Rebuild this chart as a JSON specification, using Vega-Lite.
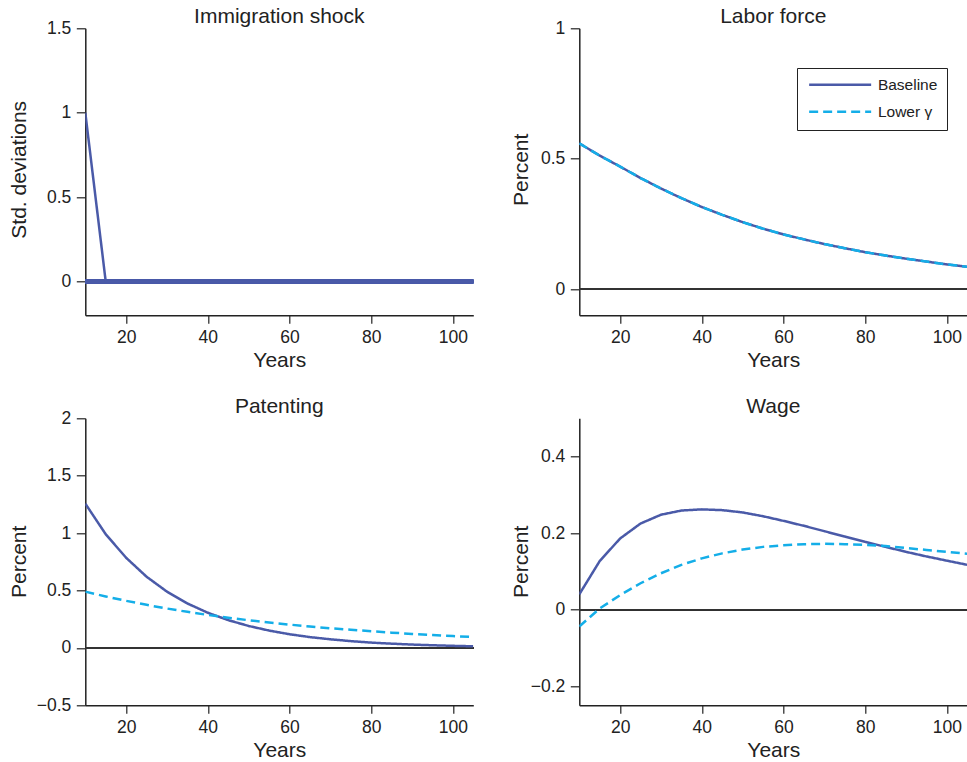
{
  "$schema": "https://vega.github.io/schema/vega-lite/v6.json",
  "autosize": {"type": "none"},
  "padding": {"left": 85.3, "top": 28.3, "right": 881.7, "bottom": 733.7},
  "background": "white",
  "bounds": "flush",
  "columns": 2,
  "spacing": {"row": 103, "column": 106},
  "resolve": {
    "scale": {"color": "independent", "strokeDash": "independent", "y": "independent", "x": "independent"},
    "legend": {"color": "independent", "strokeDash": "independent"}
  },
  "data": {"values": [
    {"panel": "shock", "series": "Baseline", "year": 10, "value": 1},
    {"panel": "shock", "series": "Baseline", "year": 15, "value": 0},
    {"panel": "shock", "series": "Baseline", "year": 20, "value": 0},
    {"panel": "shock", "series": "Baseline", "year": 25, "value": 0},
    {"panel": "shock", "series": "Baseline", "year": 30, "value": 0},
    {"panel": "shock", "series": "Baseline", "year": 35, "value": 0},
    {"panel": "shock", "series": "Baseline", "year": 40, "value": 0},
    {"panel": "shock", "series": "Baseline", "year": 45, "value": 0},
    {"panel": "shock", "series": "Baseline", "year": 50, "value": 0},
    {"panel": "shock", "series": "Baseline", "year": 55, "value": 0},
    {"panel": "shock", "series": "Baseline", "year": 60, "value": 0},
    {"panel": "shock", "series": "Baseline", "year": 65, "value": 0},
    {"panel": "shock", "series": "Baseline", "year": 70, "value": 0},
    {"panel": "shock", "series": "Baseline", "year": 75, "value": 0},
    {"panel": "shock", "series": "Baseline", "year": 80, "value": 0},
    {"panel": "shock", "series": "Baseline", "year": 85, "value": 0},
    {"panel": "shock", "series": "Baseline", "year": 90, "value": 0},
    {"panel": "shock", "series": "Baseline", "year": 95, "value": 0},
    {"panel": "shock", "series": "Baseline", "year": 100, "value": 0},
    {"panel": "shock", "series": "Baseline", "year": 105, "value": 0},

    {"panel": "labor", "series": "Baseline", "year": 10, "value": 0.559},
    {"panel": "labor", "series": "Baseline", "year": 15, "value": 0.512},
    {"panel": "labor", "series": "Baseline", "year": 20, "value": 0.470},
    {"panel": "labor", "series": "Baseline", "year": 25, "value": 0.426},
    {"panel": "labor", "series": "Baseline", "year": 30, "value": 0.386},
    {"panel": "labor", "series": "Baseline", "year": 35, "value": 0.349},
    {"panel": "labor", "series": "Baseline", "year": 40, "value": 0.315},
    {"panel": "labor", "series": "Baseline", "year": 45, "value": 0.285},
    {"panel": "labor", "series": "Baseline", "year": 50, "value": 0.257},
    {"panel": "labor", "series": "Baseline", "year": 55, "value": 0.232},
    {"panel": "labor", "series": "Baseline", "year": 60, "value": 0.210},
    {"panel": "labor", "series": "Baseline", "year": 65, "value": 0.191},
    {"panel": "labor", "series": "Baseline", "year": 70, "value": 0.173},
    {"panel": "labor", "series": "Baseline", "year": 75, "value": 0.157},
    {"panel": "labor", "series": "Baseline", "year": 80, "value": 0.142},
    {"panel": "labor", "series": "Baseline", "year": 85, "value": 0.129},
    {"panel": "labor", "series": "Baseline", "year": 90, "value": 0.117},
    {"panel": "labor", "series": "Baseline", "year": 95, "value": 0.106},
    {"panel": "labor", "series": "Baseline", "year": 100, "value": 0.095},
    {"panel": "labor", "series": "Baseline", "year": 105, "value": 0.086},
    {"panel": "labor", "series": "Lower γ", "year": 10, "value": 0.559},
    {"panel": "labor", "series": "Lower γ", "year": 15, "value": 0.512},
    {"panel": "labor", "series": "Lower γ", "year": 20, "value": 0.470},
    {"panel": "labor", "series": "Lower γ", "year": 25, "value": 0.426},
    {"panel": "labor", "series": "Lower γ", "year": 30, "value": 0.386},
    {"panel": "labor", "series": "Lower γ", "year": 35, "value": 0.349},
    {"panel": "labor", "series": "Lower γ", "year": 40, "value": 0.315},
    {"panel": "labor", "series": "Lower γ", "year": 45, "value": 0.285},
    {"panel": "labor", "series": "Lower γ", "year": 50, "value": 0.257},
    {"panel": "labor", "series": "Lower γ", "year": 55, "value": 0.232},
    {"panel": "labor", "series": "Lower γ", "year": 60, "value": 0.210},
    {"panel": "labor", "series": "Lower γ", "year": 65, "value": 0.191},
    {"panel": "labor", "series": "Lower γ", "year": 70, "value": 0.173},
    {"panel": "labor", "series": "Lower γ", "year": 75, "value": 0.157},
    {"panel": "labor", "series": "Lower γ", "year": 80, "value": 0.142},
    {"panel": "labor", "series": "Lower γ", "year": 85, "value": 0.129},
    {"panel": "labor", "series": "Lower γ", "year": 90, "value": 0.117},
    {"panel": "labor", "series": "Lower γ", "year": 95, "value": 0.106},
    {"panel": "labor", "series": "Lower γ", "year": 100, "value": 0.095},
    {"panel": "labor", "series": "Lower γ", "year": 105, "value": 0.086},

    {"panel": "patent", "series": "Baseline", "year": 10, "value": 1.257},
    {"panel": "patent", "series": "Baseline", "year": 15, "value": 0.990},
    {"panel": "patent", "series": "Baseline", "year": 20, "value": 0.785},
    {"panel": "patent", "series": "Baseline", "year": 25, "value": 0.620},
    {"panel": "patent", "series": "Baseline", "year": 30, "value": 0.490},
    {"panel": "patent", "series": "Baseline", "year": 35, "value": 0.387},
    {"panel": "patent", "series": "Baseline", "year": 40, "value": 0.306},
    {"panel": "patent", "series": "Baseline", "year": 45, "value": 0.242},
    {"panel": "patent", "series": "Baseline", "year": 50, "value": 0.191},
    {"panel": "patent", "series": "Baseline", "year": 55, "value": 0.151},
    {"panel": "patent", "series": "Baseline", "year": 60, "value": 0.119},
    {"panel": "patent", "series": "Baseline", "year": 65, "value": 0.094},
    {"panel": "patent", "series": "Baseline", "year": 70, "value": 0.075},
    {"panel": "patent", "series": "Baseline", "year": 75, "value": 0.059},
    {"panel": "patent", "series": "Baseline", "year": 80, "value": 0.046},
    {"panel": "patent", "series": "Baseline", "year": 85, "value": 0.037},
    {"panel": "patent", "series": "Baseline", "year": 90, "value": 0.029},
    {"panel": "patent", "series": "Baseline", "year": 95, "value": 0.023},
    {"panel": "patent", "series": "Baseline", "year": 100, "value": 0.018},
    {"panel": "patent", "series": "Baseline", "year": 105, "value": 0.014},
    {"panel": "patent", "series": "Lower γ", "year": 10, "value": 0.490},
    {"panel": "patent", "series": "Lower γ", "year": 15, "value": 0.448},
    {"panel": "patent", "series": "Lower γ", "year": 20, "value": 0.410},
    {"panel": "patent", "series": "Lower γ", "year": 25, "value": 0.375},
    {"panel": "patent", "series": "Lower γ", "year": 30, "value": 0.343},
    {"panel": "patent", "series": "Lower γ", "year": 35, "value": 0.314},
    {"panel": "patent", "series": "Lower γ", "year": 40, "value": 0.287},
    {"panel": "patent", "series": "Lower γ", "year": 45, "value": 0.263},
    {"panel": "patent", "series": "Lower γ", "year": 50, "value": 0.241},
    {"panel": "patent", "series": "Lower γ", "year": 55, "value": 0.221},
    {"panel": "patent", "series": "Lower γ", "year": 60, "value": 0.203},
    {"panel": "patent", "series": "Lower γ", "year": 65, "value": 0.186},
    {"panel": "patent", "series": "Lower γ", "year": 70, "value": 0.171},
    {"panel": "patent", "series": "Lower γ", "year": 75, "value": 0.158},
    {"panel": "patent", "series": "Lower γ", "year": 80, "value": 0.145},
    {"panel": "patent", "series": "Lower γ", "year": 85, "value": 0.133},
    {"panel": "patent", "series": "Lower γ", "year": 90, "value": 0.122},
    {"panel": "patent", "series": "Lower γ", "year": 95, "value": 0.112},
    {"panel": "patent", "series": "Lower γ", "year": 100, "value": 0.103},
    {"panel": "patent", "series": "Lower γ", "year": 105, "value": 0.095},

    {"panel": "wage", "series": "Baseline", "year": 10, "value": 0.040},
    {"panel": "wage", "series": "Baseline", "year": 15, "value": 0.127},
    {"panel": "wage", "series": "Baseline", "year": 20, "value": 0.186},
    {"panel": "wage", "series": "Baseline", "year": 25, "value": 0.225},
    {"panel": "wage", "series": "Baseline", "year": 30, "value": 0.248},
    {"panel": "wage", "series": "Baseline", "year": 35, "value": 0.259},
    {"panel": "wage", "series": "Baseline", "year": 40, "value": 0.262},
    {"panel": "wage", "series": "Baseline", "year": 45, "value": 0.260},
    {"panel": "wage", "series": "Baseline", "year": 50, "value": 0.254},
    {"panel": "wage", "series": "Baseline", "year": 55, "value": 0.244},
    {"panel": "wage", "series": "Baseline", "year": 60, "value": 0.232},
    {"panel": "wage", "series": "Baseline", "year": 65, "value": 0.219},
    {"panel": "wage", "series": "Baseline", "year": 70, "value": 0.205},
    {"panel": "wage", "series": "Baseline", "year": 75, "value": 0.191},
    {"panel": "wage", "series": "Baseline", "year": 80, "value": 0.177},
    {"panel": "wage", "series": "Baseline", "year": 85, "value": 0.164},
    {"panel": "wage", "series": "Baseline", "year": 90, "value": 0.151},
    {"panel": "wage", "series": "Baseline", "year": 95, "value": 0.139},
    {"panel": "wage", "series": "Baseline", "year": 100, "value": 0.128},
    {"panel": "wage", "series": "Baseline", "year": 105, "value": 0.117},
    {"panel": "wage", "series": "Lower γ", "year": 10, "value": -0.044},
    {"panel": "wage", "series": "Lower γ", "year": 15, "value": 0.003},
    {"panel": "wage", "series": "Lower γ", "year": 20, "value": 0.038},
    {"panel": "wage", "series": "Lower γ", "year": 25, "value": 0.069},
    {"panel": "wage", "series": "Lower γ", "year": 30, "value": 0.095},
    {"panel": "wage", "series": "Lower γ", "year": 35, "value": 0.117},
    {"panel": "wage", "series": "Lower γ", "year": 40, "value": 0.134},
    {"panel": "wage", "series": "Lower γ", "year": 45, "value": 0.147},
    {"panel": "wage", "series": "Lower γ", "year": 50, "value": 0.157},
    {"panel": "wage", "series": "Lower γ", "year": 55, "value": 0.164},
    {"panel": "wage", "series": "Lower γ", "year": 60, "value": 0.168},
    {"panel": "wage", "series": "Lower γ", "year": 65, "value": 0.171},
    {"panel": "wage", "series": "Lower γ", "year": 70, "value": 0.172},
    {"panel": "wage", "series": "Lower γ", "year": 75, "value": 0.171},
    {"panel": "wage", "series": "Lower γ", "year": 80, "value": 0.169},
    {"panel": "wage", "series": "Lower γ", "year": 85, "value": 0.166},
    {"panel": "wage", "series": "Lower γ", "year": 90, "value": 0.161},
    {"panel": "wage", "series": "Lower γ", "year": 95, "value": 0.156},
    {"panel": "wage", "series": "Lower γ", "year": 100, "value": 0.151},
    {"panel": "wage", "series": "Lower γ", "year": 105, "value": 0.146}
  ]},
  "concat": [
    {
      "title": {"text": "Immigration shock", "dy": 8.75},
      "width": 388, "height": 287,
      "transform": [{"filter": "datum.panel === 'shock'"}],
      "encoding": {
        "x": {"field": "year", "type": "quantitative", "scale": {"domain": [10, 105], "nice": false, "zero": false},
              "axis": {"values": [20, 40, 60, 80, 100], "title": "Years", "titleX": 194, "titleY": 51.5, "titleBaseline": "alphabetic"}}
      },
      "layer": [
        {"mark": {"type": "rule", "color": "#4a5aa8", "strokeWidth": 3.5},
         "encoding": {"x": {"value": 0}, "x2": {"value": 388},
           "y": {"datum": 0, "type": "quantitative", "scale": {"domain": [-0.2, 1.5], "nice": false, "zero": false},
                 "axis": {"values": [0, 0.5, 1, 1.5], "format": "~f", "title": "Std. deviations", "titleX": -59.5, "titleY": 141, "titleBaseline": "alphabetic"}}}},
        {"mark": {"type": "line", "strokeWidth": 2.5, "clip": true},
         "encoding": {
           "y": {"field": "value", "type": "quantitative", "scale": {"domain": [-0.2, 1.5], "nice": false, "zero": false},
                 "axis": {"values": [0, 0.5, 1, 1.5], "format": "~f", "title": "Std. deviations", "titleX": -59.5, "titleY": 141, "titleBaseline": "alphabetic"}},
           "color": {"field": "series", "type": "nominal", "scale": {"domain": ["Baseline", "Lower γ"], "range": ["#4a5aa8", "#14aee8"]}, "legend": null},
           "strokeDash": {"field": "series", "type": "nominal", "scale": {"domain": ["Baseline", "Lower γ"], "range": [[1, 0], [9, 5]]}, "legend": null}
         }}
      ]
    },
    {
      "title": {"text": "Labor force", "dy": 8.75},
      "width": 388, "height": 287,
      "transform": [{"filter": "datum.panel === 'labor'"}],
      "encoding": {
        "x": {"field": "year", "type": "quantitative", "scale": {"domain": [10, 105], "nice": false, "zero": false},
              "axis": {"values": [20, 40, 60, 80, 100], "title": "Years", "titleX": 194, "titleY": 51.5, "titleBaseline": "alphabetic"}}
      },
      "layer": [
        {"mark": {"type": "rule", "color": "#333", "strokeWidth": 1.2},
         "encoding": {"x": {"value": 0}, "x2": {"value": 388},
           "y": {"datum": 0, "type": "quantitative", "scale": {"domain": [-0.1, 1], "nice": false, "zero": false},
                 "axis": {"values": [0, 0.5, 1], "format": "~f", "title": "Percent", "titleX": -52, "titleY": 141, "titleBaseline": "alphabetic"}}}},
        {"mark": {"type": "line", "strokeWidth": 2.5, "clip": true},
         "encoding": {
           "y": {"field": "value", "type": "quantitative", "scale": {"domain": [-0.1, 1], "nice": false, "zero": false},
                 "axis": {"values": [0, 0.5, 1], "format": "~f", "title": "Percent", "titleX": -52, "titleY": 141, "titleBaseline": "alphabetic"}},
           "color": {"field": "series", "type": "nominal", "scale": {"domain": ["Baseline", "Lower γ"], "range": ["#4a5aa8", "#14aee8"]},
                     "legend": {"title": null, "orient": "none", "legendX": 217.7, "legendY": 39.7, "padding": 9, "strokeColor": "#222", "fillColor": "white", "labelFontSize": 15.5, "labelColor": "#222", "symbolType": "M-0.92,0L11.48,0", "symbolSize": 100, "symbolStrokeWidth": 2.5, "labelOffset": 56.4, "rowPadding": 10}},
           "strokeDash": {"field": "series", "type": "nominal", "scale": {"domain": ["Baseline", "Lower γ"], "range": [[1, 0], [9, 5]]},
                     "legend": {"title": null, "orient": "none", "legendX": 217.7, "legendY": 39.7, "padding": 9, "strokeColor": "#222", "fillColor": "white", "labelFontSize": 15.5, "labelColor": "#222", "symbolType": "M-0.92,0L11.48,0", "symbolSize": 100, "symbolStrokeWidth": 2.5, "labelOffset": 56.4, "rowPadding": 10}}
         }}
      ]
    },
    {
      "title": {"text": "Patenting", "dy": 8.75},
      "width": 388, "height": 287,
      "transform": [{"filter": "datum.panel === 'patent'"}],
      "encoding": {
        "x": {"field": "year", "type": "quantitative", "scale": {"domain": [10, 105], "nice": false, "zero": false},
              "axis": {"values": [20, 40, 60, 80, 100], "title": "Years", "titleX": 194, "titleY": 51.5, "titleBaseline": "alphabetic"}}
      },
      "layer": [
        {"mark": {"type": "rule", "color": "#333", "strokeWidth": 1.2},
         "encoding": {"x": {"value": 0}, "x2": {"value": 388},
           "y": {"datum": 0, "type": "quantitative", "scale": {"domain": [-0.5, 2], "nice": false, "zero": false},
                 "axis": {"values": [-0.5, 0, 0.5, 1, 1.5, 2], "format": "~f", "title": "Percent", "titleX": -60, "titleY": 143, "titleBaseline": "alphabetic"}}}},
        {"mark": {"type": "line", "strokeWidth": 2.5, "clip": true},
         "encoding": {
           "y": {"field": "value", "type": "quantitative", "scale": {"domain": [-0.5, 2], "nice": false, "zero": false},
                 "axis": {"values": [-0.5, 0, 0.5, 1, 1.5, 2], "format": "~f", "title": "Percent", "titleX": -60, "titleY": 143, "titleBaseline": "alphabetic"}},
           "color": {"field": "series", "type": "nominal", "scale": {"domain": ["Baseline", "Lower γ"], "range": ["#4a5aa8", "#14aee8"]}, "legend": null},
           "strokeDash": {"field": "series", "type": "nominal", "scale": {"domain": ["Baseline", "Lower γ"], "range": [[1, 0], [9, 5]]}, "legend": null}
         }}
      ]
    },
    {
      "title": {"text": "Wage"},
      "width": 388, "height": 287,
      "transform": [{"filter": "datum.panel === 'wage'"}],
      "encoding": {
        "x": {"field": "year", "type": "quantitative", "scale": {"domain": [10, 105], "nice": false, "zero": false},
              "axis": {"values": [20, 40, 60, 80, 100], "title": "Years", "titleX": 194, "titleY": 51.5, "titleBaseline": "alphabetic"}}
      },
      "layer": [
        {"mark": {"type": "rule", "color": "#333", "strokeWidth": 1.2},
         "encoding": {"x": {"value": 0}, "x2": {"value": 388},
           "y": {"datum": 0, "type": "quantitative", "scale": {"domain": [-0.25, 0.5], "nice": false, "zero": false},
                 "axis": {"values": [-0.2, 0, 0.2, 0.4], "format": "~f", "title": "Percent", "titleX": -52, "titleY": 143, "titleBaseline": "alphabetic"}}}},
        {"mark": {"type": "line", "strokeWidth": 2.5, "clip": true},
         "encoding": {
           "y": {"field": "value", "type": "quantitative", "scale": {"domain": [-0.25, 0.5], "nice": false, "zero": false},
                 "axis": {"values": [-0.2, 0, 0.2, 0.4], "format": "~f", "title": "Percent", "titleX": -52, "titleY": 143, "titleBaseline": "alphabetic"}},
           "color": {"field": "series", "type": "nominal", "scale": {"domain": ["Baseline", "Lower γ"], "range": ["#4a5aa8", "#14aee8"]}, "legend": null},
           "strokeDash": {"field": "series", "type": "nominal", "scale": {"domain": ["Baseline", "Lower γ"], "range": [[1, 0], [9, 5]]}, "legend": null}
         }}
      ]
    }
  ],
  "config": {
    "font": "Liberation Sans",
    "view": {"stroke": null},
    "axis": {"domainColor": "#222", "domainWidth": 1.5, "tickColor": "#222", "tickWidth": 1.2, "labelColor": "#222", "labelFontSize": 17.5, "labelFont": "Liberation Sans", "titleFont": "Liberation Sans", "titleFontSize": 21, "titleFontWeight": "normal", "titleColor": "#222", "grid": false, "labelFlush": false, "labelOverlap": false},
    "axisX": {"tickSize": 8, "labelPadding": 5},
    "axisY": {"tickSize": 9, "labelPadding": 5.5},
    "legend": {"labelFont": "Liberation Sans"},
    "title": {"fontSize": 21, "fontWeight": "normal", "font": "Liberation Sans", "color": "#222", "frame": "group", "offset": 1, "baseline": "alphabetic", "anchor": "middle"}
  }
}
